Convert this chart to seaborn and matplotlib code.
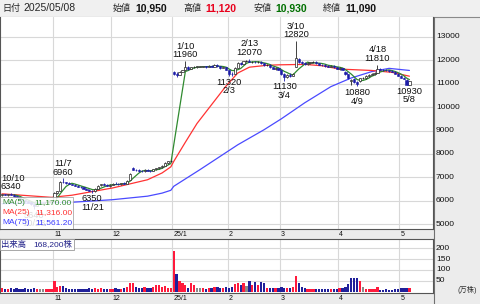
import numpy as np
import pandas as pd
import matplotlib
matplotlib.use("Agg")
import matplotlib.pyplot as plt
import matplotlib.transforms as mtransforms
from matplotlib.patches import Rectangle
from matplotlib.lines import Line2D
import seaborn as sns

sns.set_theme(style="white")
plt.rcParams['font.family'] = ['Liberation Sans', 'Noto Sans CJK JP', 'DejaVu Sans']

# ------------------------------------------------------------------ data
holidays = ["2024-10-14", "2024-11-04", "2024-12-31", "2025-01-01", "2025-01-02",
            "2025-01-03", "2025-01-13", "2025-02-11", "2025-02-24", "2025-03-20",
            "2025-04-29", "2025-05-05", "2025-05-06"]

opens = [
    6250, 6280, 6260, 6290, 6270, 6200, 6150, 6080, 6020, 5990, 5930, 5860, 5800, 5890, 5870, 5880, 5950, 5990,
    6000, 6320, 6420, 6820, 6790, 6760, 6720, 6680, 6640, 6600, 6580, 6520, 6480, 6430, 6400, 6520, 6660, 6700, 6680, 6650,
    6680, 6740, 6720, 6700, 6760, 6720, 6880, 7420, 7320, 7300, 7280, 7260, 7320, 7290, 7270, 7340, 7400, 7430, 7500, 7620, 7680,
    11500, 11420, 11380, 11500, 11600, 11700, 11640, 11700, 11720, 11720, 11720, 11740, 11700, 11760, 11720, 11800, 11740, 11680, 11700,
    11560, 11420, 11400, 11680, 11880, 11840, 11960, 11960, 11920, 11940, 11900, 11940, 11860, 11780, 11800, 11700, 11640, 11660,
    11580, 11420, 11300, 11380, 11340, 11720, 12050, 11920, 11880, 11840, 11860, 11900, 11940, 11860, 11800, 11780, 11760, 11720, 11760, 11700,
    11640, 11660, 11500, 11400, 11100, 11200, 11060, 11100, 11220, 11220, 11340, 11380, 11400, 11460, 11640, 11600, 11580, 11560, 11540, 11500, 11420,
    11340, 11260, 11160, 10950]
highs = [
    6300, 6310, 6300, 6340, 6290, 6220, 6160, 6100, 6050, 6010, 5950, 5880, 5900, 5920, 5910, 5970, 6020, 6040,
    6360, 6420, 6850, 6960, 6820, 6790, 6740, 6700, 6660, 6640, 6600, 6540, 6500, 6450, 6540, 6680, 6740, 6760, 6720, 6700,
    6760, 6800, 6760, 6780, 6800, 6880, 7200, 7460, 7360, 7340, 7320, 7340, 7360, 7330, 7360, 7420, 7460, 7520, 7640, 7700, 7760,
    11540, 11480, 11520, 11600, 11960, 11740, 11720, 11760, 11740, 11740, 11760, 11760, 11780, 11780, 11820, 11820, 11760, 11720, 11720,
    11580, 11480, 11700, 11900, 11920, 11980, 12000, 12070, 11980, 11960, 11960, 11960, 11880, 11820, 11820, 11720, 11700, 11680,
    11600, 11460, 11420, 11440, 11460, 12820, 12080, 11960, 11920, 11900, 11920, 11960, 11960, 11880, 11840, 11820, 11800, 11780, 11780, 11720,
    11700, 11680, 11520, 11420, 11180, 11220, 11100, 11260, 11300, 11360, 11420, 11440, 11480, 11810, 11680, 11640, 11620, 11600, 11580, 11520, 11440,
    11360, 11280, 11180, 11120]
lows = [
    6200, 6230, 6220, 6250, 6180, 6120, 6060, 6000, 5960, 5900, 5820, 5640, 5780, 5850, 5850, 5870, 5940, 5970,
    5980, 6290, 6400, 6760, 6740, 6700, 6660, 6620, 6580, 6550, 6500, 6450, 6400, 6350, 6390, 6510, 6640, 6660, 6620, 6600,
    6660, 6700, 6680, 6690, 6700, 6710, 6870, 7300, 7260, 7250, 7240, 7250, 7270, 7240, 7260, 7320, 7370, 7420, 7480, 7580, 7650,
    11350, 11300, 11360, 11480, 11580, 11600, 11620, 11680, 11680, 11690, 11700, 11680, 11690, 11700, 11710, 11700, 11640, 11660, 11560,
    11320, 11340, 11390, 11660, 11800, 11830, 11940, 11900, 11880, 11860, 11880, 11840, 11760, 11740, 11680, 11620, 11600, 11560,
    11380, 11130, 11260, 11300, 11320, 11700, 11880, 11840, 11800, 11800, 11820, 11860, 11840, 11780, 11740, 11720, 11700, 11700, 11680, 11620,
    11600, 11560, 11380, 11200, 10950, 11040, 10880, 11080, 11180, 11200, 11300, 11360, 11380, 11440, 11560, 11540, 11520, 11500, 11480, 11400, 11320,
    11240, 11180, 10940, 10930]
closes = [
    6280, 6260, 6290, 6270, 6200, 6150, 6080, 6020, 5990, 5930, 5860, 5800, 5880, 5880, 5880, 5950, 5990, 6010,
    6320, 6400, 6800, 6790, 6760, 6720, 6680, 6640, 6600, 6580, 6520, 6480, 6430, 6400, 6520, 6650, 6700, 6680, 6650, 6680,
    6740, 6720, 6700, 6760, 6720, 6860, 7150, 7320, 7300, 7280, 7260, 7320, 7290, 7270, 7340, 7400, 7430, 7500, 7620, 7680, 7720,
    11420, 11380, 11500, 11580, 11700, 11640, 11700, 11720, 11720, 11720, 11740, 11700, 11760, 11720, 11800, 11740, 11680, 11700, 11580,
    11420, 11400, 11680, 11880, 11840, 11960, 11960, 11920, 11940, 11900, 11940, 11860, 11780, 11800, 11700, 11640, 11660, 11580,
    11420, 11300, 11380, 11340, 11420, 12080, 11920, 11880, 11840, 11860, 11900, 11940, 11860, 11800, 11780, 11760, 11720, 11760, 11700, 11640,
    11660, 11580, 11400, 11240, 11150, 11080, 11000, 11220, 11220, 11340, 11380, 11400, 11460, 11640, 11600, 11580, 11560, 11540, 11500, 11420, 11340,
    11260, 11200, 10960, 11090]
# volume in 万株
volumes = [
    14, 12, 10, 15, 12, 14, 13, 12, 14, 10, 12, 18, 12, 11, 13, 12, 10, 11,
    50, 22, 24, 24, 14, 12, 12, 11, 12, 12, 13, 12, 14, 13, 14, 12, 14, 12, 12, 11,
    12, 14, 13, 12, 14, 20, 41, 38, 22, 18, 16, 20, 16, 15, 22, 28, 30, 22, 24, 14, 18,
    189, 81, 49, 41, 30, 17, 39, 28, 15, 14, 14, 12, 18, 14, 20, 21, 18, 16, 20,
    18, 22, 35, 41, 30, 38, 25, 49, 30, 42, 30, 46, 40, 17, 16, 16, 18, 15,
    20, 18, 16, 18, 20, 73, 40, 22, 14, 12, 11, 12, 11, 10, 12, 11, 10, 12, 11, 12,
    14, 15, 20, 37, 61, 61, 61, 49, 22, 10, 10, 10, 12, 20, 9, 9, 10, 9, 9, 10, 12,
    15, 16, 17, 16.82]

ma25_dates = ["2024-10-07", "2024-10-31", "2024-11-12", "2024-12-02", "2024-12-18", "2024-12-25",
              "2024-12-30", "2025-01-06", "2025-01-10", "2025-01-17", "2025-01-24", "2025-01-31",
              "2025-02-06", "2025-02-13", "2025-02-21", "2025-02-28", "2025-03-13", "2025-03-24",
              "2025-04-01", "2025-04-16", "2025-04-25", "2025-05-08"]
ma25_values = [6300, 6150, 6240, 6550, 6900, 7190, 7450, 7680, 8500, 9300, 10100, 10900,
               11450, 11700, 11780, 11800, 11820, 11760, 11620, 11560, 11480, 11316]
ma75_dates = ["2024-10-07", "2024-11-12", "2024-12-02", "2024-12-18", "2024-12-25", "2024-12-30",
              "2025-01-06", "2025-01-20", "2025-02-06", "2025-02-20", "2025-03-03", "2025-03-13",
              "2025-03-27", "2025-04-07", "2025-04-16", "2025-04-24", "2025-05-08"]
ma75_values = [5880, 5940, 6050, 6200, 6330, 6450, 6620, 7330, 8390, 9030, 9500, 10180,
               10870, 11240, 11510, 11650, 11561.2]

high_label_dates = ["2024-10-10", "2024-11-07", "2025-01-10", "2025-02-13", "2025-03-10", "2025-04-18"]
low_label_dates = ["2024-10-23", "2024-11-21", "2025-02-03", "2025-03-04", "2025-04-09", "2025-05-08"]
month_labels = ["11", "12", "25/1", "2", "3", "4", "5"]

# ------------------------------------------------------------------ prep
dates = pd.bdate_range("2024-10-07", "2025-05-08")
dates = dates[~dates.isin(pd.to_datetime(holidays))]
O = np.array(opens, float); Hh = np.array(highs, float)
L = np.array(lows, float); C = np.array(closes, float)
V = np.array(volumes, float)
n = len(dates)
idx = np.arange(n)
pos_of = {d.strftime("%Y-%m-%d"): i for i, d in enumerate(dates)}
ma5 = pd.Series(C).rolling(5).mean().to_numpy()
ma25_x = np.array([pos_of[d] for d in ma25_dates])
ma75_x = np.array([pos_of[d] for d in ma75_dates])
months = pd.Series(dates.to_period("M"))
month_pos = [i - 0.5 for i in range(1, n) if months[i] != months[i - 1]]

# ------------------------------------------------------------------ layout
W, H = 480, 304
fig = plt.figure(figsize=(W / 100, H / 100), dpi=100)
fig.patch.set_facecolor("white")

def fx(p): return p / W
def fy(p): return 1 - p / H

PR = 433
P_TOP, P_BOT = 17, 229
V_TOP, V_BOT = 239, 292.5
XL = (-0.7, 148.1)

def frect(x0, y0, x1, y1, **kw):
    fig.patches.append(Rectangle((fx(x0), fy(y1)), fx(x1 - x0), (y1 - y0) / H,
                                 transform=fig.transFigure, zorder=-5, **kw))

frect(0, 0, 480, 16.5, facecolor="#f0f0f0", edgecolor="none")
frect(433.5, 16.5, 480, 304, facecolor="#ececec", edgecolor="none")
frect(0, 229, 433.5, 239, facecolor="#ebebeb", edgecolor="none")
frect(0, 292.5, 433.5, 304, facecolor="#ebebeb", edgecolor="none")
fig.add_artist(Line2D([0, 1], [fy(16.5), fy(16.5)], transform=fig.transFigure, color="#8a8a8a", lw=0.8, zorder=-4))
fig.add_artist(Line2D([fx(433.5), fx(433.5)], [0, fy(16.5)], transform=fig.transFigure, color="#707070", lw=0.8, zorder=-4))

ax = fig.add_axes([0, fy(P_BOT), fx(PR), (P_BOT - P_TOP) / H])
axv = fig.add_axes([0, fy(V_BOT), fx(PR), (V_BOT - V_TOP) / H])

GRID = "#d8d8d8"
for a in (ax, axv):
    a.set_facecolor("white")
    a.set_xlim(*XL)
    a.set_xticks(month_pos)
    a.tick_params(length=0, labelbottom=False, labelleft=False)
    a.grid(True, color=GRID, lw=0.8)
    a.set_axisbelow(True)
    for s in a.spines.values():
        s.set_color("#555555"); s.set_linewidth(0.8)
ax.spines["top"].set_visible(False)
ax.set_ylim(4800, 13840)
ax.set_yticks(range(5000, 14000, 1000))
axv.set_ylim(-4.6, 243)
axv.set_yticks([50, 100, 150, 200])

# ------------------------------------------------------------------ candles
DOWN = "#1c1ca8"
up = C >= O
bb = np.minimum(O, C)
bh = np.maximum(np.abs(C - O), 14)
ax.vlines(idx[up], L[up], Hh[up], color="#222222", lw=0.6, zorder=3)
ax.vlines(idx[~up], L[~up], Hh[~up], color=DOWN, lw=0.6, zorder=3)
ax.bar(idx[up], bh[up], bottom=bb[up], width=0.75, color="white", edgecolor="#222222", linewidth=0.5, zorder=4)
ax.bar(idx[~up], bh[~up], bottom=bb[~up], width=0.75, color=DOWN, edgecolor=DOWN, linewidth=0.4, zorder=4)

# moving averages
sns.lineplot(x=ma75_x, y=ma75_values, ax=ax, color="#4a4aff", linewidth=0.9, legend=False, zorder=2.5)
sns.lineplot(x=ma25_x, y=ma25_values, ax=ax, color="#ff3333", linewidth=0.9, legend=False, zorder=2.6)
sns.lineplot(x=idx, y=ma5, ax=ax, color="#2f8a2f", linewidth=0.9, legend=False, zorder=2.7)
ax.set_xlim(*XL); ax.set_ylim(4800, 13840)
ax.set_xlabel(""); ax.set_ylabel("")

# high / low labels
span = XL[1] - XL[0]
def place(d, val, above):
    i = pos_of[d]
    m, dd = int(d[5:7]), int(d[8:10])
    txt = f"{m}/{dd}\n{int(val)}" if above else f"{int(val)}\n{m}/{dd}"
    px = (i - XL[0]) / span * PR
    ha, xx = "center", i
    if px - 13 < 1:
        ha, xx = "left", XL[0] + 1 / PR * span
    elif px + 13 > PR - 1:
        ha, xx = "right", XL[1] - 1 / PR * span
    ax.annotate(txt, xy=(xx, val), xytext=(0, 1.2 if above else -1.2), textcoords="offset points",
                ha=ha, va="bottom" if above else "top", fontsize=6.7, linespacing=0.92,
                color="#111111", zorder=6, annotation_clip=False)
for d in high_label_dates:
    place(d, Hh[pos_of[d]], True)
for d in low_label_dates:
    place(d, L[pos_of[d]], False)

# MA legend box
lb_w = 73 / PR
lb_h = (P_BOT - 197) / (P_BOT - P_TOP)
ax.add_patch(Rectangle((0, 0), lb_w, lb_h, transform=ax.transAxes, facecolor="white", alpha=0.85,
                       edgecolor="#9a9a9a", lw=0.6, zorder=10))
rows = [("MA(5)", ma5[-1], "#2f8a2f", 202.3), ("MA(25)", ma25_values[-1], "#ff3333", 212.3),
        ("MA(75)", ma75_values[-1], "#3a3aff", 222.3)]
for name, val, col, ypx in rows:
    ay = (P_BOT - ypx) / (P_BOT - P_TOP)
    ax.text(2 / PR, ay, name, transform=ax.transAxes, color=col, fontsize=6, va="center", ha="left", zorder=11)
    ax.text(72 / PR, ay, f"{val:,.2f}", transform=ax.transAxes, color=col, fontsize=6, va="center", ha="right", zorder=11)

# right price labels
tp = mtransforms.blended_transform_factory(fig.transFigure, ax.transData)
for v in range(5000, 14000, 1000):
    ax.text(fx(436), v, str(v), transform=tp, fontsize=6, va="center", ha="left", color="#111111")

# ------------------------------------------------------------------ volume
chg = np.diff(C, prepend=O[0])
vcol = np.where(chg > 0, "#ff1a3c", np.where(chg < 0, "#20209a", "#8a8a8a"))
axv.bar(idx, V, width=0.78, color=vcol, linewidth=0, zorder=3)
axv.set_xlim(*XL)
tv = mtransforms.blended_transform_factory(fig.transFigure, axv.transData)
for v in [50, 100, 150, 200]:
    axv.text(fx(436), v, str(v), transform=tv, fontsize=6, va="center", ha="left", color="#111111")
fig.text(fx(457), fy(290), "(万株)", fontsize=5.2, va="center", ha="left", color="#333333")
vb_h = (250 - V_TOP) / (V_BOT - V_TOP)
axv.add_patch(Rectangle((0, 1 - vb_h), 74 / PR, vb_h, transform=axv.transAxes, facecolor="white",
                        edgecolor="#9a9a9a", lw=0.6, zorder=10))
axv.text(1.5 / PR, 1 - vb_h / 2, "出来高", transform=axv.transAxes, fontsize=6, color="#22228a",
         va="center", ha="left", zorder=11)
axv.text(72 / PR, 1 - vb_h / 2, f"{int(round(V[-1] * 10000)):,}株", transform=axv.transAxes, fontsize=6,
         color="#22228a", va="center", ha="right", zorder=11)

# month labels in bands
tb = mtransforms.blended_transform_factory(ax.transData, fig.transFigure)
for p, lab in zip(month_pos, month_labels):
    for ypx in (234, 298.5):
        ax.text(p + 0.35, fy(ypx), lab, transform=tb, fontsize=5, va="center", ha="left", color="#111111")

# ------------------------------------------------------------------ header
yh = fy(8.3)
fig.text(fx(2), yh, "日付", fontsize=6.5, va="center", ha="left")
fig.text(fx(23), yh, dates[-1].strftime("%Y/%m/%d"), fontsize=7.5, va="center", ha="left")
hdr = [("始値", O[-1], "#111111", 113), ("高値", Hh[-1], "#e8001c", 183),
       ("安値", L[-1], "#007000", 253), ("終値", C[-1], "#111111", 323)]
for lab, val, col, xp in hdr:
    fig.text(fx(xp), yh, lab, fontsize=6.5, va="center", ha="left")
    fig.text(fx(xp + 22), yh, f"{int(val):,}", fontsize=7.5, fontweight="bold", color=col, va="center", ha="left")

fig.savefig("out.png", dpi=100)
